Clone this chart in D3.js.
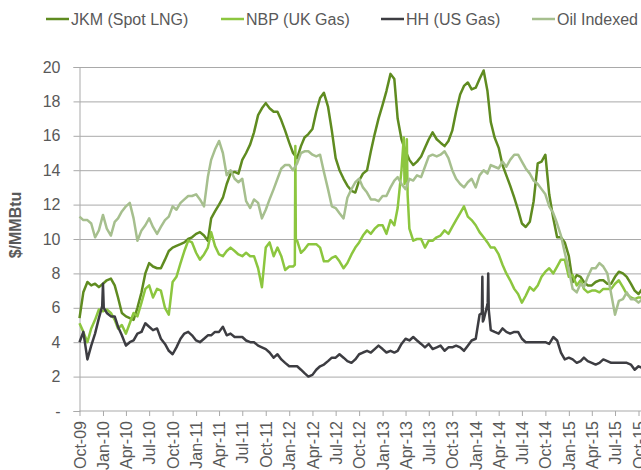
<!DOCTYPE html>
<html>
<head>
<meta charset="utf-8">
<script src="https://cdnjs.cloudflare.com/ajax/libs/d3/7.8.5/d3.min.js"></script>
<style>
  body { margin: 0; background: #fff; }
  svg { display: block; }
  text { font-family: "Liberation Sans", Arial, sans-serif; }
</style>
</head>
<body>
<svg id="chart"></svg>
<script>
// semi-monthly readings, 1st and 16th of each month, Oct-09 .. mid Oct-15
const grid = d3.range(146).map(function(i) {
  return new Date(2009, 9 + Math.floor(i / 2), i % 2 ? 16 : 1)
})

const seriesNames = ["JKM (Spot LNG)", "NBP (UK Gas)", "HH (US Gas)", "Oil Indexed"]

const jkm = [
  5.4, 6.9, 7.5, 7.3, 7.4, 7.2, 7.4, 7.6, 7.7, 7.3, 6.6, 5.7,
  5.5, 5.4, 5.3, 6.0, 6.9, 8.0, 8.6, 8.4, 8.3, 8.3, 8.8, 9.3,
  9.5, 9.6, 9.7, 9.8, 10.0, 10.1, 10.3, 10.4, 10.2, 9.9, 11.2, 11.6,
  12.0, 12.4, 13.2, 13.8, 13.9, 13.8, 14.6, 15.0, 15.5, 16.2, 17.2, 17.6,
  17.9, 17.6, 17.4, 17.4, 16.9, 16.3, 15.6, 15.0, 14.7, 15.4, 15.9, 16.1,
  16.4, 17.4, 18.2, 18.5, 17.7, 16.3, 14.7, 14.0, 13.5, 13.1, 12.8, 12.7,
  13.4, 13.8, 14.0, 15.1, 16.1, 17.0, 17.8, 18.6, 19.6, 19.3, 17.0, 15.8,
  15.1, 14.6, 14.3, 14.5, 14.8, 15.3, 15.8, 16.2, 15.8, 15.6, 15.4, 15.7,
  16.3, 17.4, 18.4, 18.9, 19.1, 18.7, 18.8, 19.3, 19.8, 18.6, 16.8, 15.9,
  15.3, 14.3, 13.7, 13.1, 12.4, 11.7, 10.9, 10.7, 11.0, 12.2, 14.4, 14.5,
  14.9, 12.6, 11.2, 10.1, 10.1, 9.8, 9.0, 7.5, 7.9, 7.8, 7.5, 7.3,
  7.3, 7.5, 7.6, 7.6, 7.4, 7.4, 7.8, 8.1, 8.0, 7.8, 7.4, 7.0,
  6.8, 7.1
]

const nbp = [
  5.1, 4.6, 4.0, 4.8, 5.3, 5.9, 5.8, 5.9, 5.7, 5.3, 4.8, 5.0,
  4.5, 5.1, 5.7, 5.5, 6.3, 7.1, 7.3, 6.6, 7.1, 7.0, 6.0, 5.6,
  7.5, 7.8, 8.6, 9.3, 9.9, 9.8, 9.2, 8.8, 9.1, 9.5, 10.4, 9.6,
  9.1, 9.0, 9.3, 9.5, 9.3, 9.1, 9.0, 9.2, 9.0, 9.0, 8.3, 7.2,
  9.5, 9.8, 9.0, 9.5, 9.0, 8.2, 8.4, 8.4, 9.9, 9.2, 9.4, 9.7,
  9.7, 9.7, 9.5, 8.7, 8.7, 8.9, 9.0, 8.7, 8.3, 8.6, 9.1, 9.5,
  9.8, 10.2, 10.5, 10.3, 10.6, 10.8, 10.8, 10.3, 11.1, 10.8, 11.8, 14.0,
  13.6, 10.6, 9.9, 10.0, 10.0, 9.5, 9.9, 9.9, 10.1, 10.2, 10.5, 10.3,
  10.7, 11.1, 11.5, 11.9, 11.3, 11.1, 10.8, 10.4, 10.1, 9.8, 9.5, 9.5,
  9.1, 8.5, 8.0, 7.6, 7.1, 6.8, 6.3, 6.7, 7.2, 7.0, 7.3, 7.8,
  8.1, 8.3, 8.0, 8.4, 8.8, 8.8, 7.8, 7.9, 7.3, 7.6, 7.1, 6.9,
  7.0, 7.0, 6.9, 7.1, 7.1, 7.1, 7.4, 7.6, 7.2, 6.8, 6.6, 6.5,
  6.6, 6.6
]

const hh = [
  4.0, 4.6, 3.0, 3.8, 4.5, 5.4, 7.4, 5.7, 5.5, 5.5, 4.9, 4.4,
  3.8, 4.0, 4.1, 4.5, 4.6, 5.1, 4.9, 4.7, 4.8, 4.2, 3.9, 3.5,
  3.3, 3.7, 4.2, 4.5, 4.6, 4.4, 4.1, 4.0, 4.2, 4.4, 4.4, 4.6,
  4.6, 4.9, 4.4, 4.5, 4.3, 4.3, 4.3, 4.1, 4.0, 4.0, 3.8, 3.7,
  3.6, 3.4, 3.1, 3.3, 3.0, 2.8, 2.6, 2.6, 2.6, 2.4, 2.2, 2.0,
  2.1, 2.4, 2.6, 2.7, 2.9, 3.1, 3.1, 3.3, 3.1, 2.9, 2.8, 3.0,
  3.3, 3.4, 3.5, 3.4, 3.6, 3.8, 3.6, 3.4, 3.5, 3.4, 3.5, 3.9,
  4.2, 4.1, 4.3, 4.1, 3.9, 3.7, 3.9, 3.6, 3.7, 3.8, 3.5, 3.7,
  3.7, 3.8, 3.7, 3.5, 3.8, 4.1, 4.2, 5.6, 5.3, 6.2, 4.7, 4.6,
  4.5, 4.8, 4.6, 4.5, 4.6, 4.6, 4.2, 4.0, 4.0, 4.0, 4.0, 4.0,
  4.0, 3.9, 4.3, 4.1, 3.4, 3.0, 3.1, 3.0, 2.8, 2.9, 3.1, 2.9,
  2.8, 2.7, 2.8, 3.0, 2.9, 2.8, 2.8, 2.8, 2.8, 2.8, 2.7, 2.4,
  2.6, 2.5
]

const oil = [
  11.3, 11.1, 11.1, 10.9, 10.1, 10.5, 11.4, 10.6, 10.2, 11.0, 11.2, 11.6,
  11.9, 12.1, 11.2, 9.9, 10.5, 10.8, 11.2, 10.7, 10.3, 10.7, 11.1, 11.3,
  11.9, 11.7, 12.1, 12.3, 12.5, 12.5, 12.6, 12.3, 11.9, 13.6, 14.6, 15.2,
  15.7, 15.0, 13.7, 14.0, 13.5, 13.3, 13.5, 12.2, 11.8, 12.3, 12.1, 11.2,
  11.7, 12.3, 12.9, 13.5, 14.1, 14.3, 14.3, 14.0, 14.4, 15.0, 15.1, 15.1,
  14.9, 14.8, 14.9, 13.9, 12.9, 11.9, 11.8, 11.5, 11.2, 12.4, 12.9, 13.3,
  13.5, 13.0, 12.7, 12.3, 12.3, 12.2, 12.5, 12.5, 13.0, 13.4, 13.6, 13.2,
  12.9, 13.5, 13.4, 13.7, 13.6, 14.2, 14.8, 14.9, 14.8, 14.9, 15.1, 14.7,
  14.0, 13.5, 13.2, 13.0, 13.3, 13.5, 13.0, 13.7, 14.0, 13.8, 14.3, 14.2,
  14.1, 14.5, 14.2, 14.6, 14.9, 14.9, 14.5, 14.1, 13.8, 13.4, 13.2, 12.9,
  12.6, 11.9, 11.5, 10.9, 10.2, 9.2, 8.2, 7.1, 6.9, 7.4, 7.2, 7.8,
  8.3, 8.3, 8.6, 8.4, 8.0, 6.8, 5.6, 6.4, 6.5, 6.9, 6.5, 6.5,
  6.3, 6.5
]

// short-lived price spikes read between the regular readings
const jkmSpikes = []
const nbpSpikes = [["2012-01-23", 8.5], ["2012-01-25", 15.4], ["2012-01-27", 9.9],
  ["2013-03-25", 15.9], ["2013-03-28", 13.2], ["2013-04-06", 15.8], ["2013-04-09", 12.6]]
const hhSpikes = [["2009-12-29", 6.1], ["2010-01-04", 6.0],
  ["2014-01-25", 5.7], ["2014-01-27", 7.8], ["2014-01-29", 5.2],
  ["2014-02-17", 6.3], ["2014-02-19", 8.0], ["2014-02-21", 5.9]]
const oilSpikes = []

const colors = ["#5f8b20", "#8cc63f", "#3d3d42", "#a6bf8e"]

const tickLabels = ["Oct-09", "Jan-10", "Apr-10", "Jul-10", "Oct-10", "Jan-11", "Apr-11", "Jul-11",
  "Oct-11", "Jan-12", "Apr-12", "Jul-12", "Oct-12", "Jan-13", "Apr-13", "Jul-13", "Oct-13",
  "Jan-14", "Apr-14", "Jul-14", "Oct-14", "Jan-15", "Apr-15", "Jul-15", "Oct-15"]
const yTicks = [0, 2, 4, 6, 8, 10, 12, 14, 16, 18, 20]

const width = 641
const height = 470
const plot = { left: 79.5, right: 638.5, top: 67, bottom: 411 }
const textColor = "#595959"
const gridColor = "#a9a9a9"
const fontSize = "16px"

const parseDay = d3.timeParse("%Y-%m-%d")
const parseTick = d3.timeParse("%b-%y")

const x = d3.scaleTime()
  .domain([new Date(2009, 9, 1), new Date(2015, 9, 1)])
  .range([plot.left, plot.right])

const y = d3.scaleLinear()
  .domain([0, 20])
  .range([plot.bottom, plot.top])

const svg = d3.select("#chart")
  .attr("width", width)
  .attr("height", height)

// gridlines
svg.append("g")
  .attr("transform", "translate(" + plot.left + ",0)")
  .call(d3.axisLeft(y).tickValues(yTicks.slice(1)).tickSize(-(width - plot.left)).tickFormat(""))
  .call(function(g) { g.select(".domain").remove() })
  .selectAll("line")
  .attr("stroke", gridColor)

// y axis
let yAxis = svg.append("g")
  .attr("transform", "translate(" + plot.left + ",0)")
  .call(d3.axisLeft(y).tickValues(yTicks).tickSize(6).tickPadding(13)
    .tickFormat(function(d) { return d === 0 ? "-" : d }))
yAxis.select(".domain").attr("stroke", gridColor)
yAxis.selectAll("line").attr("stroke", gridColor)
yAxis.selectAll("text")
  .attr("fill", textColor)
  .style("font-size", fontSize)

// x axis
let xAxis = svg.append("g")
  .attr("transform", "translate(0," + plot.bottom + ")")
  .call(d3.axisBottom(x)
    .tickValues(tickLabels.map(function(t) { return parseTick(t) }))
    .tickSize(5)
    .tickFormat(function(d, i) { return tickLabels[i] }))
xAxis.select(".domain").attr("stroke", gridColor).attr("d", "M" + plot.left + ",0H" + width)
xAxis.selectAll("line").attr("stroke", gridColor)
xAxis.selectAll("text")
  .attr("fill", textColor)
  .style("font-size", fontSize)
  .attr("transform", "rotate(-90)")
  .attr("text-anchor", "end")
  .attr("x", -10)
  .attr("y", 0)
  .attr("dy", "0.35em")

// y axis title
svg.append("text")
  .attr("transform", "translate(21,225) rotate(-90)")
  .attr("text-anchor", "middle")
  .attr("fill", textColor)
  .style("font-size", fontSize)
  .style("font-weight", "bold")
  .text("$/MMBtu")

// build each series from the regular readings plus the spike readings
function build(values, spikes) {
  let pts = grid.map(function(d, i) { return { date: d, value: values[i] } })
  spikes.forEach(function(s) { pts.push({ date: parseDay(s[0]), value: s[1] }) })
  pts.sort(function(a, b) { return a.date - b.date })
  return pts
}

const series = [build(jkm, jkmSpikes), build(nbp, nbpSpikes), build(hh, hhSpikes), build(oil, oilSpikes)]

const line = d3.line()
  .x(function(d) { return x(d.date) })
  .y(function(d) { return y(d.value) })

svg.append("g")
  .selectAll("path")
  .data(series)
  .enter()
  .append("path")
  .attr("d", line)
  .attr("fill", "none")
  .attr("stroke", function(d, i) { return colors[i] })
  .attr("stroke-width", 2.5)
  .attr("stroke-linejoin", "round")

// legend
const legendX = [46, 221, 381, 532]
let legend = svg.append("g")
  .selectAll("g")
  .data(seriesNames)
  .enter()
  .append("g")
  .attr("transform", function(d, i) { return "translate(" + legendX[i] + ",19)" })

legend.append("line")
  .attr("x1", 0)
  .attr("x2", 23)
  .attr("stroke", function(d, i) { return colors[i] })
  .attr("stroke-width", 2.5)

legend.append("text")
  .attr("x", 25)
  .attr("y", 6)
  .attr("fill", textColor)
  .style("font-size", fontSize)
  .text(function(d) { return d })
</script>
</body>
</html>
